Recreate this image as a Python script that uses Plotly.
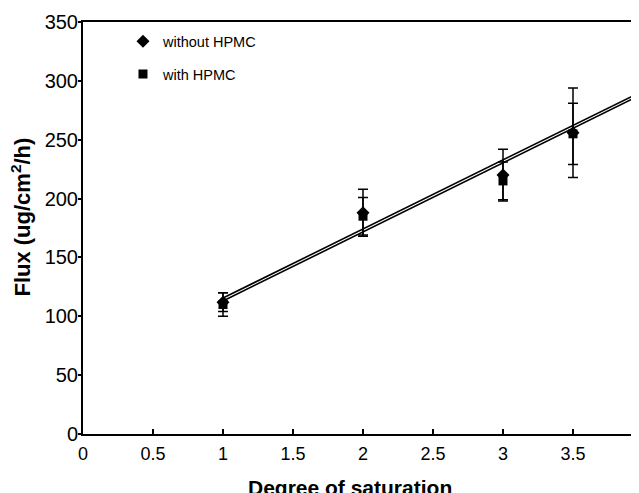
import plotly.graph_objects as go

# Data
saturation = [1, 2, 3, 3.5, 4]
flux_without = [112, 188, 220, 256, 299]
err_without = [8, 20, 22, 38, 30]
flux_with = [110, 185, 215, 255, 298]
err_with = [10, 16, 16, 26, 15]

fit_x = [1, 4]
fit_without = [115.5, 291.5]
fit_with = [113, 289]

x_ticks = [0, 0.5, 1, 1.5, 2, 2.5, 3, 3.5, 4]
x_ticklabels = ["0", "0.5", "1", "1.5", "2", "2.5", "3", "3.5", "4"]
y_ticks = [0, 50, 100, 150, 200, 250, 300, 350]

fig = go.Figure()

fig.add_trace(go.Scatter(
    x=saturation, y=flux_without, mode="markers", name="without HPMC",
    legendgroup="a",
    marker=dict(symbol="diamond", size=10, color="black"),
    error_y=dict(type="data", array=err_without, visible=True,
                 color="black", thickness=1.5, width=5),
))
fig.add_trace(go.Scatter(
    x=saturation, y=flux_with, mode="markers", name="with HPMC",
    legendgroup="b",
    marker=dict(symbol="square", size=9, color="black"),
    error_y=dict(type="data", array=err_with, visible=True,
                 color="black", thickness=1.5, width=5),
))
fig.add_trace(go.Scatter(
    x=fit_x, y=fit_without, mode="lines", showlegend=False,
    line=dict(color="black", width=1.6),
))
fig.add_trace(go.Scatter(
    x=fit_x, y=fit_with, mode="lines", showlegend=False,
    line=dict(color="black", width=1.6),
))

fig.update_layout(
    width=673, height=520,
    margin=dict(l=75, r=10, t=14, b=94, autoexpand=False),
    paper_bgcolor="white", plot_bgcolor="white",
    font=dict(family="Arial, Liberation Sans, sans-serif", color="black"),
    showlegend=True,
    legend=dict(
        x=0.068, y=0.992, xanchor="left", yanchor="top",
        bgcolor="rgba(0,0,0,0)", font=dict(size=14.5, color="black"),
        tracegroupgap=11,
    ),
    xaxis=dict(
        range=[0, 4.2], tickvals=x_ticks, ticktext=x_ticklabels,
        showgrid=False, zeroline=False, automargin=False,
        showline=True, linecolor="black", linewidth=2, mirror=True,
        ticks="inside", ticklen=5, tickwidth=1.5, tickcolor="black",
        tickfont=dict(size=18, color="black"), ticklabelstandoff=2,
    ),
    yaxis=dict(
        range=[0, 350], tickvals=y_ticks, automargin=False,
        showgrid=False, zeroline=False,
        showline=True, linecolor="black", linewidth=2,
        ticks="outside", ticklen=3, tickwidth=1.5, tickcolor="black",
        tickfont=dict(size=20, color="black"), ticklabelstandoff=-4,
    ),
    annotations=[
        dict(text="<b>Degree of saturation</b>", xref="paper", yref="paper",
             x=0.454, y=-0.129, xanchor="center", yanchor="middle",
             showarrow=False, font=dict(size=21, color="black")),
        dict(text="<b>Flux (ug/cm<sup>2</sup>/h)</b>", xref="paper", yref="paper",
             x=-0.106, y=0.527, xanchor="center", yanchor="middle",
             textangle=-90, showarrow=False, font=dict(size=22, color="black")),
    ],
)

fig.write_html("out.html")
